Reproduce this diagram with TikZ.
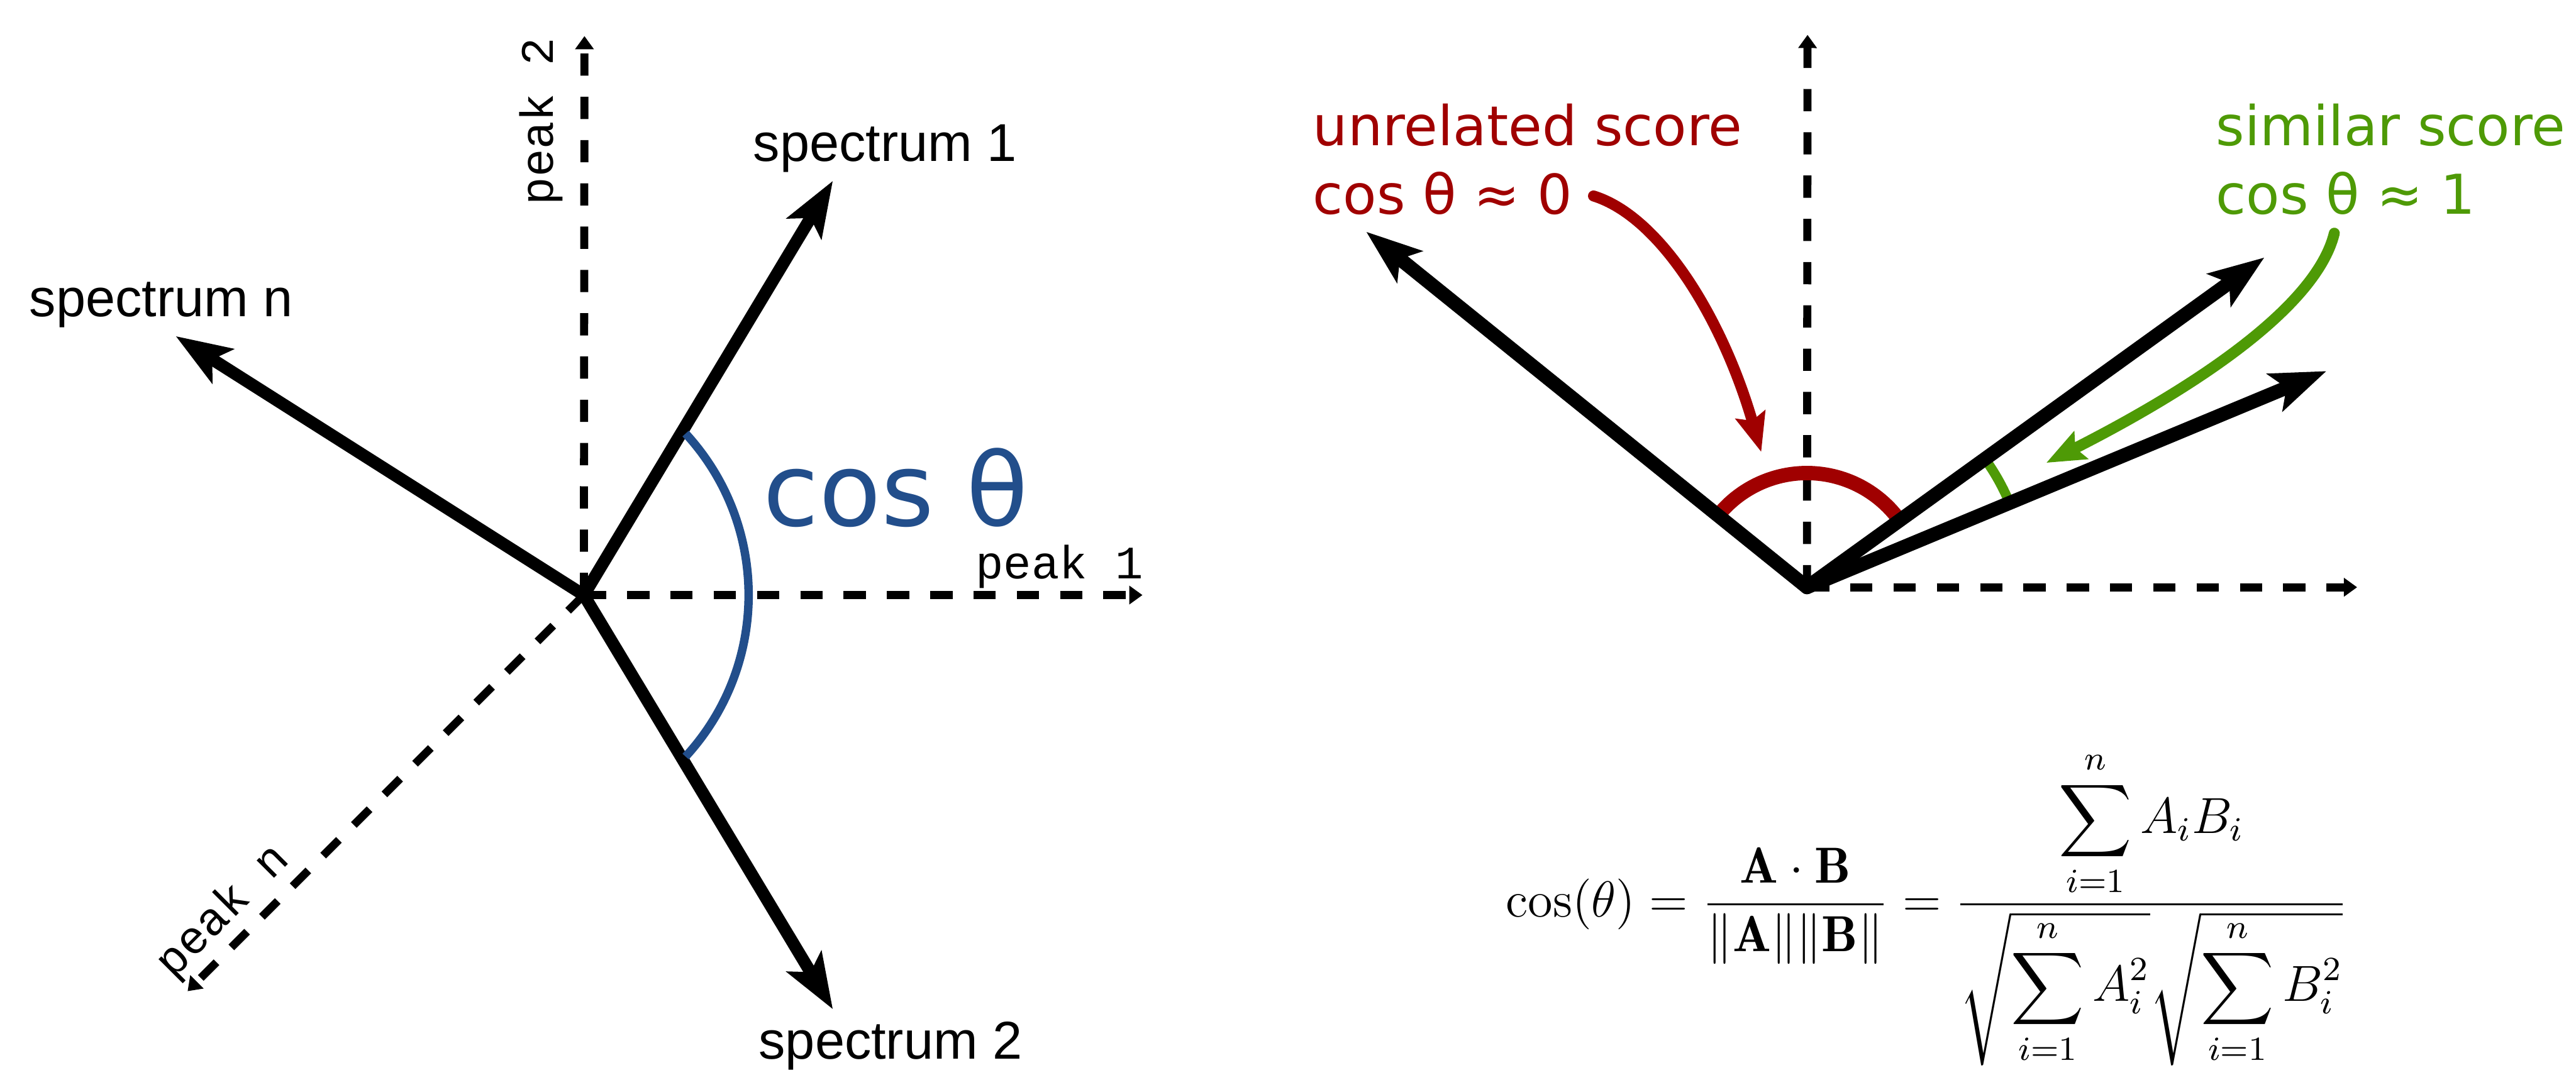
\documentclass[tikz,border=0pt]{standalone}
\usepackage{fontspec}
\usepackage{amsmath}
\usepackage{tikz}
\usetikzlibrary{arrows.meta, positioning, calc}
\newfontfamily\labelfont{Liberation Sans}
\newfontfamily\axisfont{Liberation Mono}
\newfontfamily\notefont{DejaVu Sans}
\definecolor{angleBlue}{HTML}{224E8B}
\definecolor{scoreRed}{HTML}{A00000}
\definecolor{scoreGreen}{HTML}{4E9A06}

\begin{document}
\begin{tikzpicture}[
    axis/.style={line width=1.9pt, dash pattern=on 0.185cm off 0.175cm,
                 -{Triangle[length=0.11cm, width=0.15cm]}},
    spec/.style={line width=2.9pt,
                 -{Stealth[length=0.46cm, width=0.33cm, inset=0.1cm]}},
    vec/.style={line width=3.3pt, line cap=round,
                -{Stealth[length=0.46cm, width=0.33cm, inset=0.1cm]}},
    axislabel/.style={font=\axisfont\fontsize{11pt}{13pt}\selectfont, inner sep=0pt},
    speclabel/.style={font=\labelfont\fontsize{12.6pt}{15pt}\selectfont,
                      inner sep=0pt, anchor=base},
    note/.style={font=\notefont\fontsize{13pt}{16.3pt}\selectfont,
                 inner sep=0pt, align=left, anchor=north west},
    curved/.style={line width=2.6pt,
                   -{Stealth[length=0.32cm, width=0.25cm, inset=0.05cm]}},
]
\useasboundingbox (0,0) rectangle (21.42,8.94);

% Left: spectra as vectors in peak space
\coordinate (O) at (4.855,3.99);
\coordinate (p1) at (9.50,3.99);
\coordinate (p2) at (4.86,8.64);
\coordinate (pn) at ([shift={(225:4.66)}]O);
\coordinate (s1) at ([shift={(59:4.02)}]O);
\coordinate (s2) at ([shift={(-59:4.02)}]O);
\coordinate (sn) at ([shift={(147.6:4.02)}]O);

\draw[axis] (O) -- (p1);
\draw[axis] (O) -- (p2);
\draw[axis] (O) -- (pn);

\node[axislabel, anchor=base] (p1lbl) at (8.81,4.125) {peak 1};
\node[axislabel, rotate=90] (p2lbl) at (4.50,7.93) {peak 2};
\node[axislabel, rotate=45] (pnlbl) at (1.86,1.355) {peak n};

\draw[spec] (O) -- (s1);
\draw[spec] (O) -- (s2);
\draw[spec] (O) -- (sn);

\node[speclabel] (s1lbl) at (7.36,7.60) {spectrum 1};
\node[speclabel] (s2lbl) at (7.405,0.13) {spectrum 2};
\node[speclabel] (snlbl) at (1.34,6.305) {spectrum n};

\coordinate (arcc) at (4.24,3.99);
\draw[angleBlue, line width=2pt] ([shift={(-42.6:1.985)}]arcc) arc (-42.6:42.6:1.985);
\node[font=\notefont\fontsize{24pt}{28pt}\selectfont, text=angleBlue,
      inner sep=0pt, anchor=base] (coslbl) at (7.45,4.565) {cos θ};

% Right: unrelated vs similar
\coordinate (Q) at (15.025,4.055);
\coordinate (q1) at (19.60,4.055);
\coordinate (q2) at (15.03,8.65);
\coordinate (ua) at ([shift={(141.1:4.71)}]Q);
\coordinate (sa) at ([shift={(35.8:4.69)}]Q);
\coordinate (sb) at ([shift={(22.6:4.68)}]Q);

\draw[axis] (Q) -- (q1);
\draw[axis] (Q) -- (q2);

\draw[scoreRed, line width=3.4pt] ([shift={(35.8:0.95)}]Q) arc (35.8:141.1:0.95);
\draw[scoreGreen, line width=2.3pt] ([shift={(22.6:1.825)}]Q) arc (22.6:35.8:1.825);

\draw[vec] (Q) -- (ua);
\draw[vec] (Q) -- (sa);
\draw[vec] (Q) -- (sb);

\node[note, text=scoreRed] (unrel) at (10.91,8.085) {unrelated score\\cos θ ≈ 0};
\node[note, text=scoreGreen] (simil) at (18.42,8.085) {similar score\\cos θ ≈ 1};

\coordinate (redS) at (13.25,7.31);
\coordinate (redT) at (14.645,5.18);
\coordinate (grnS) at (19.41,7.00);
\coordinate (grnT) at (17.015,5.09);
\draw[curved, scoreRed, line cap=round] (redS) .. controls (13.80,7.14) and (14.32,6.30) .. (redT);
\draw[curved, scoreGreen, line cap=round] (grnS) .. controls (19.25,6.34) and (18.10,5.64) .. (grnT);

% Formula
\node[anchor=base west, inner sep=0pt, font=\fontsize{12pt}{14pt}\selectfont] (formula) at (12.515,1.312)
  {$\displaystyle \cos(\theta) = \frac{\mathbf{A}\cdot\mathbf{B}}{\|\mathbf{A}\|\|\mathbf{B}\|}
   = \frac{\displaystyle\sum_{i=1}^{n} A_i B_i}
          {\sqrt{\displaystyle\sum_{i=1}^{n} A_i^2}\sqrt{\displaystyle\sum_{i=1}^{n} B_i^2}}$};
\end{tikzpicture}
\end{document}
